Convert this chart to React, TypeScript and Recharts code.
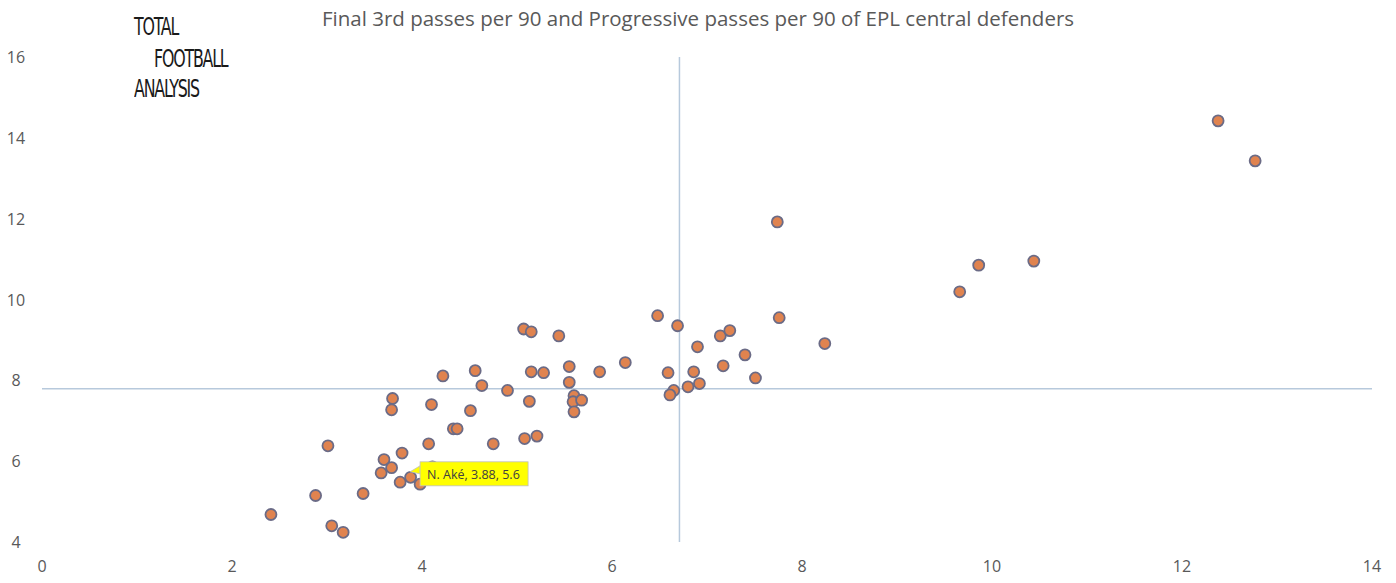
import { ScatterChart, Scatter, XAxis, YAxis, ReferenceLine, LabelList } from "recharts";

// final 3rd passes per 90 (x) / progressive passes per 90 (y)
const final3rd = [
  12.38, 12.77, 7.74, 9.86, 10.44, 9.66, 7.76, 8.24, 6.48, 6.69, 5.07, 5.15, 5.44, 7.14, 7.24, 6.9,
  7.4, 6.14, 5.87, 5.55, 5.55, 5.15, 5.28, 4.56, 4.22, 4.63, 4.9, 5.6, 5.59, 5.68, 5.13, 5.6,
  4.1, 4.51, 4.33, 4.37, 4.07, 4.75, 5.08, 5.21, 6.59, 6.86, 6.8, 6.92, 6.65, 6.61, 7.17, 7.51,
  3.69, 3.68, 3.01, 3.79, 3.6, 3.68, 3.57, 3.77, 3.98, 4.11, 2.88, 3.38, 2.41, 3.05, 3.17,
];
const progressive = [
  14.42, 13.43, 11.92, 10.85, 10.95, 10.19, 9.55, 8.91, 9.6, 9.35, 9.27, 9.2, 9.1, 9.1, 9.23, 8.83,
  8.63, 8.44, 8.21, 8.34, 7.95, 8.21, 8.19, 8.24, 8.11, 7.87, 7.75, 7.62, 7.47, 7.51, 7.48, 7.22,
  7.4, 7.25, 6.8, 6.8, 6.43, 6.43, 6.56, 6.62, 8.19, 8.21, 7.84, 7.92, 7.75, 7.64, 8.36, 8.06,
  7.55, 7.27, 6.38, 6.2, 6.04, 5.84, 5.71, 5.48, 5.43, 5.86, 5.15, 5.2, 4.68, 4.4, 4.24,
];

const labelled = { name: "N. Aké", x: 3.88, y: 5.6 };

const avgX = 6.71;
const avgY = 7.79;

const xTicks = [0, 2, 4, 6, 8, 10, 12, 14];
const yTicks = [4, 6, 8, 10, 12, 14, 16];

const players = final3rd.map((x, i) => ({ x, y: progressive[i] }));

const FONT = "'Open Sans', sans-serif";
const GREY = "#595959";

const XTick = (props: any) => (
  <text x={props.x} y={566} textAnchor="middle" dominantBaseline="central" fontSize={16} fill={GREY} fontFamily={FONT}>
    {props.payload.value}
  </text>
);

const YTick = (props: any) => (
  <text x={16} y={props.y} textAnchor="middle" dominantBaseline="central" fontSize={16} fill={GREY} fontFamily={FONT}>
    {props.payload.value}
  </text>
);

const Callout = (props: any) => {
  const { x, y } = props;
  const bx = x + 14;
  const by = y - 11;
  return (
    <g>
      <path
        d={`M${bx} ${by + 4} L${x + 4} ${y - 1} L${bx} ${by + 12} Z`}
        fill="#ffff00"
        stroke="#bfbfbf"
        strokeWidth={0.8}
      />
      <rect x={bx} y={by} width={108} height={24} fill="#ffff00" stroke="#bfbfbf" strokeWidth={0.8} />
      <text x={bx + 7} y={by + 12.5} dominantBaseline="central" fontSize={12.5} fill="#404040" fontFamily={FONT}>
        {`${labelled.name}, ${labelled.x}, ${labelled.y}`}
      </text>
    </g>
  );
};

const logoLine = (text: string, left: number, top: number) => (
  <div
    style={{
      position: "absolute",
      left,
      top,
      fontSize: 22,
      lineHeight: "22px",
      letterSpacing: -1.5,
      whiteSpace: "nowrap",
      transform: "scale(0.8, 1.15)",
      transformOrigin: "left top",
    }}
  >
    {text}
  </div>
);

const Logo = () => (
  <div
    style={{
      position: "absolute",
      left: 0,
      top: 0,
      fontFamily: "'Liberation Sans Narrow', 'DejaVu Sans Condensed', sans-serif",
      color: "#1a1a1a",
    }}
  >
    {logoLine("TOTAL", 134, 14)}
    {logoLine("FOOTBALL", 154, 46)}
    {logoLine("ANALYSIS", 134, 76)}
  </div>
);

export default function App() {
  return (
    <div style={{ position: "absolute", left: 0, top: 0, width: 1396, height: 583, background: "#fff" }}>
      <div
        style={{
          position: "absolute",
          left: 0,
          top: 4,
          width: 1396,
          textAlign: "center",
          fontFamily: FONT,
          fontSize: 20.5,
          color: GREY,
          whiteSpace: "nowrap",
        }}
      >
        Final 3rd passes per 90 and Progressive passes per 90 of EPL central defenders
      </div>
      <Logo />
      <ScatterChart width={1396} height={583} margin={{ top: 57, right: 24, bottom: 0, left: 0 }}>
        <XAxis
          type="number"
          dataKey="x"
          domain={[0, 14]}
          ticks={xTicks}
          axisLine={false}
          tickLine={false}
          height={41}
          tick={<XTick />}
          interval={0}
        />
        <YAxis
          type="number"
          dataKey="y"
          domain={[4, 16]}
          ticks={yTicks}
          axisLine={false}
          tickLine={false}
          width={42}
          tick={<YTick />}
          interval={0}
        />
        <ReferenceLine x={avgX} stroke="#b7c9dc" strokeWidth={1.5} />
        <ReferenceLine y={avgY} stroke="#b7c9dc" strokeWidth={1.5} />
        <Scatter
          data={players}
          fill="#e0834f"
          stroke="#6b6b86"
          strokeWidth={1.8}
          shape={(p: any) => <circle cx={p.cx} cy={p.cy} r={5.5} fill="#e0834f" stroke="#6b6b86" strokeWidth={1.8} />}
          isAnimationActive={false}
        />
        <Scatter
          data={[labelled]}
          shape={(p: any) => <circle cx={p.cx} cy={p.cy} r={5.5} fill="#e0834f" stroke="#6b6b86" strokeWidth={1.8} />}
          isAnimationActive={false}
        >
          <LabelList dataKey="name" content={<Callout />} />
        </Scatter>
      </ScatterChart>
    </div>
  );
}
